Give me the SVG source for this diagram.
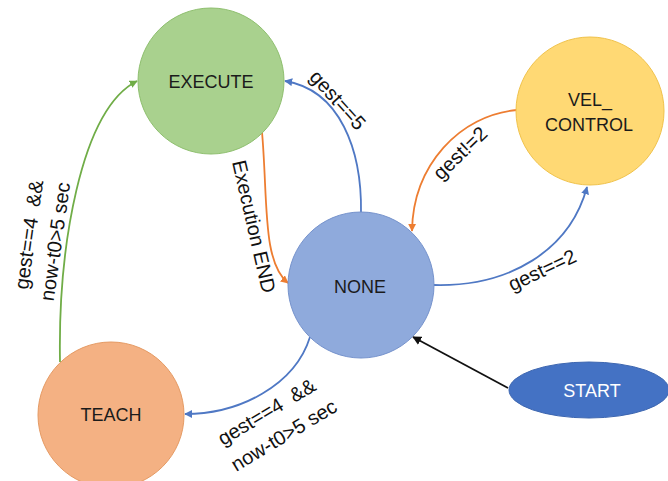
<svg xmlns="http://www.w3.org/2000/svg" width="668" height="481" viewBox="0 0 668 481">
  <style>
    .node-label { font-family: "Liberation Sans", Arial, sans-serif; font-size: 18px; fill: #1b1b1b; text-anchor: middle; }
    .edge-label { font-family: "Liberation Sans", Arial, sans-serif; font-size: 20px; fill: #111; }
    .edge { fill: none; stroke-width: 1.8; }
    .green { stroke: #70ad47; }
    .blue { stroke: #4f78c4; }
    .orange { stroke: #ed7d31; }
    .black { stroke: #111; }
  </style>
  <defs>
    <marker id="arrow-green" viewBox="0 0 10 10" refX="9" refY="5" markerWidth="8" markerHeight="8" markerUnits="userSpaceOnUse" orient="auto">
      <path d="M0,0 L10,5 L0,10 Z" fill="#70ad47"/>
    </marker>
    <marker id="arrow-blue" viewBox="0 0 10 10" refX="9" refY="5" markerWidth="8" markerHeight="8" markerUnits="userSpaceOnUse" orient="auto">
      <path d="M0,0 L10,5 L0,10 Z" fill="#4f78c4"/>
    </marker>
    <marker id="arrow-orange" viewBox="0 0 10 10" refX="9" refY="5" markerWidth="8" markerHeight="8" markerUnits="userSpaceOnUse" orient="auto">
      <path d="M0,0 L10,5 L0,10 Z" fill="#ed7d31"/>
    </marker>
    <marker id="arrow-black" viewBox="0 0 10 10" refX="9" refY="5" markerWidth="9" markerHeight="9" markerUnits="userSpaceOnUse" orient="auto">
      <path d="M0,0 L10,5 L0,10 Z" fill="#111"/>
    </marker>
  </defs>

  <rect width="668" height="481" fill="#ffffff"/>

  <!-- transitions -->
  <g id="connectors">
    <path class="edge green" d="M 60 362 C 58 250, 80 110, 137 81" marker-end="url(#arrow-green)"/>
    <path class="edge blue" d="M 361 213 C 362 150, 340 90, 285 81" marker-end="url(#arrow-blue)"/>
    <path class="edge orange" d="M 262 132 C 268 200, 262 262, 288 283" marker-end="url(#arrow-orange)"/>
    <path class="edge orange" d="M 517 110 C 460 115, 413 165, 412 231" marker-end="url(#arrow-orange)"/>
    <path class="edge blue" d="M 434 285 C 510 287, 570 250, 587 187" marker-end="url(#arrow-blue)"/>
    <path class="edge blue" d="M 310 337 C 295 385, 240 414, 185 414" marker-end="url(#arrow-blue)"/>
    <path class="edge black" d="M 508 388 L 413 337" marker-end="url(#arrow-black)"/>

    <!-- transition conditions -->
    <g transform="translate(28,290) rotate(-82)">
      <text class="edge-label" x="0" y="0" xml:space="preserve">gest==4  &amp;&amp;</text>
      <text class="edge-label" x="-8" y="27">now-t0&gt;5 sec</text>
    </g>
    <text class="edge-label" transform="translate(232,162) rotate(77)">Execution END</text>
    <text class="edge-label" text-anchor="middle" transform="translate(338,100) rotate(48)" dy="7">gest==5</text>
    <text class="edge-label" text-anchor="middle" transform="translate(460,153) rotate(-44)" dy="7">gest!=2</text>
    <text class="edge-label" text-anchor="middle" transform="translate(542,270) rotate(-25)" dy="7">gest==2</text>
    <g transform="translate(223,446) rotate(-31)">
      <text class="edge-label" x="0" y="0" xml:space="preserve">gest==4  &amp;&amp;</text>
      <text class="edge-label" x="-2" y="29">now-t0&gt;5 sec</text>
    </g>
  </g>

  <g id="node-execute">
    <circle cx="211" cy="81" r="73" fill="#a9d18e" stroke="#8ebf6e" stroke-width="1"/>
    <text class="node-label" x="211" y="88">EXECUTE</text>
  </g>

  <g id="node-vel-control">
    <circle cx="590" cy="111" r="74" fill="#ffd974" stroke="#f0c24a" stroke-width="1"/>
    <text class="node-label" x="590" y="106">VEL_</text>
    <text class="node-label" x="589" y="131">CONTROL</text>
  </g>

  <g id="node-none">
    <circle cx="361" cy="285" r="73" fill="#8faadc" stroke="#7592cc" stroke-width="1"/>
    <text class="node-label" x="360" y="293">NONE</text>
  </g>

  <g id="node-teach">
    <circle cx="111" cy="415" r="73" fill="#f4b183" stroke="#e59a63" stroke-width="1"/>
    <text class="node-label" x="111" y="421">TEACH</text>
  </g>

  <g id="node-start">
    <ellipse cx="589" cy="390" rx="80" ry="28" fill="#4472c4" stroke="#3d66b0" stroke-width="1"/>
    <text class="node-label" x="592" y="397" style="fill:#ffffff">START</text>
  </g>
</svg>
